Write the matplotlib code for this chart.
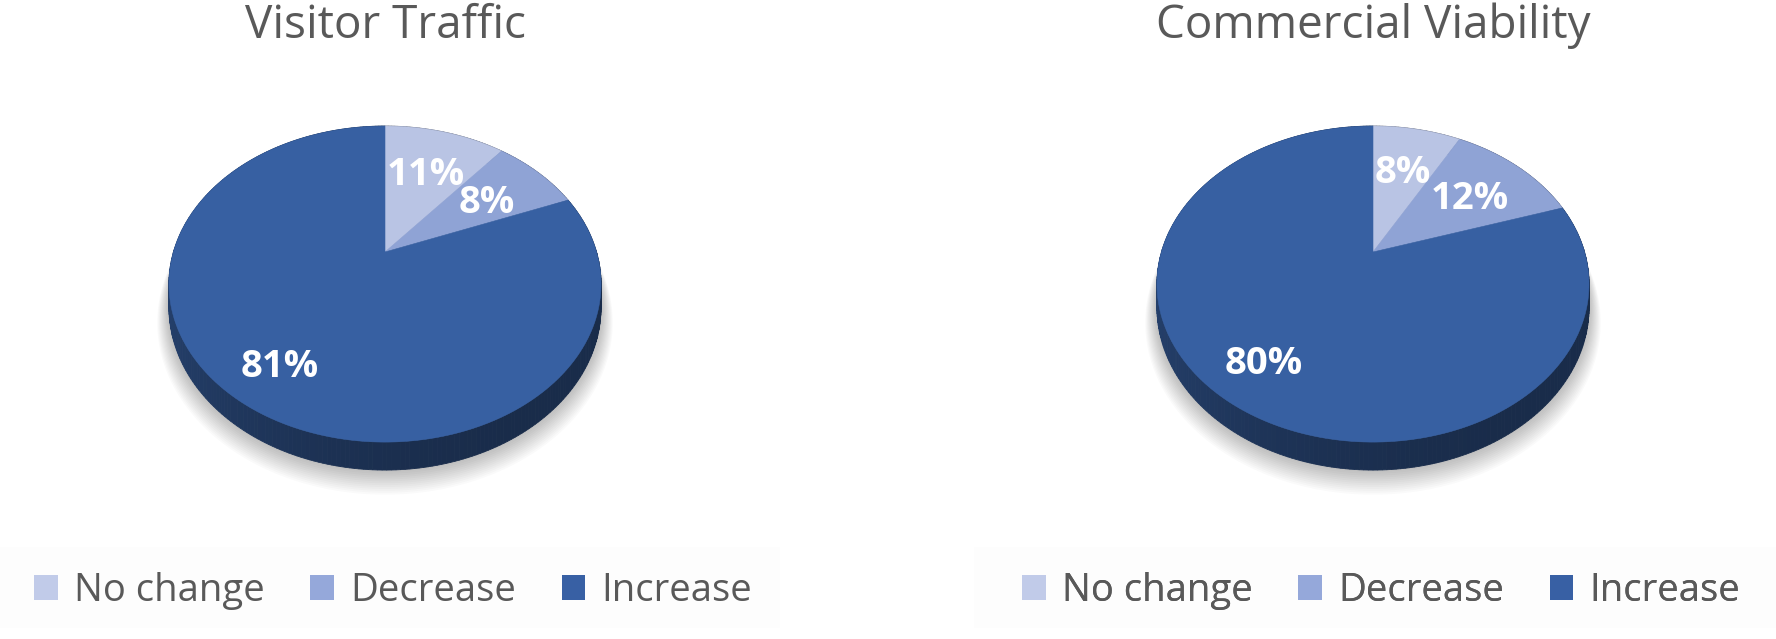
import numpy as np
import matplotlib
matplotlib.use("Agg")
from matplotlib import pyplot as plt
from matplotlib.patches import Polygon, Rectangle, Patch

plt.rcParams["font.family"] = ["Open Sans", "DejaVu Sans"]

titles = ["Visitor Traffic", "Commercial Viability"]
categories = ["No change", "Decrease", "Increase"]
visitor_traffic = [11, 8, 81]
commercial_viability = [8, 12, 80]
colors = ["#b9c4e4", "#8fa3d5", "#3760a2"]
legend_colors = ["#c1cbe9", "#95a8da", "#3860a4"]
text_grey = "#595959"

W, H = 1776, 639
fig = plt.figure(figsize=(W / 100, H / 100), dpi=100)
ax = fig.add_axes([0, 0, 1, 1])
ax.set_xlim(0, W)
ax.set_ylim(H, 0)
ax.set_axis_off()

# perspective settings (pixels)
D = 4.93
SX, SY = 1043.0, 747.0
THICK = 110.0


def project(cx, cy, theta, r=1.0, h=0.0):
    x = r * np.sin(theta)
    z = r * np.cos(theta)
    w = D + z
    return cx + SX * x / w, cy - SY * z / w + THICK * h / w


def shade(color, f):
    rgb = np.array(matplotlib.colors.to_rgb(color))
    return tuple(rgb * f)


def pie3d(cx, cy, values, title, legend_x):
    fracs = np.array(values, dtype=float) / np.sum(values)
    edges = np.concatenate([[0], np.cumsum(fracs)]) * 2 * np.pi

    # soft shadow
    t = np.linspace(0, 2 * np.pi, 200)
    for k in range(14):
        px, py = project(cx, cy, t, 1.0 + k * 0.004, 1.0)
        ax.add_patch(Polygon(np.c_[px, py + k * 0.9], closed=True,
                             facecolor="black", edgecolor="none",
                             alpha=0.018, zorder=1))

    # side wall, lighter on the left
    for i, c in enumerate(colors):
        ts = np.linspace(edges[i], edges[i + 1], max(int(fracs[i] * 360), 2) + 1)
        for a, b in zip(ts[:-1], ts[1:]):
            x0, y0 = project(cx, cy, a)
            x1, y1 = project(cx, cy, b)
            x2, y2 = project(cx, cy, b, h=1.0)
            x3, y3 = project(cx, cy, a, h=1.0)
            xm = np.sin((a + b) / 2)
            f = 0.49 - 0.1 * xm + 0.07 * xm ** 2
            ax.add_patch(Polygon([[x0, y0], [x1, y1], [x2, y2], [x3, y3]],
                                 closed=True, facecolor=shade(c, f),
                                 edgecolor=shade(c, f), linewidth=0.6, zorder=2))

    # top face
    for i, c in enumerate(colors):
        ts = np.linspace(edges[i], edges[i + 1], max(int(fracs[i] * 360), 2) + 1)
        px, py = project(cx, cy, ts)
        pts = np.vstack([[cx, cy], np.c_[px, py]])
        ax.add_patch(Polygon(pts, closed=True, facecolor=c, edgecolor=c,
                             linewidth=0.4, zorder=3))

    # labels
    for i, v in enumerate(values):
        mid = (edges[i] + edges[i + 1]) / 2
        r = 0.64 if fracs[i] < 0.3 else 0.77
        lx, ly = project(cx, cy, mid, r)
        ax.text(lx, ly + 14, f"{v}%", color="white", fontsize=27.5,
                fontweight="bold", ha="center", va="baseline", zorder=4)

    ax.text(cx, 38, title, color=text_grey, fontsize=33, ha="center",
            va="baseline")

    handles = [Patch(facecolor=c, edgecolor="none") for c in legend_colors]
    leg = ax.legend(handles, categories, loc="center left",
                    bbox_to_anchor=(legend_x / W, 1 - 591 / H),
                    ncol=3, frameon=False, fontsize=27.5,
                    handlelength=0.62, handleheight=0.62, handletextpad=0.42,
                    columnspacing=1.2, borderaxespad=0, borderpad=0)
    for txt in leg.get_texts():
        txt.set_color(text_grey)
    ax.add_artist(leg)


ax.add_patch(Rectangle((0, 547), 780, 81, facecolor="#fdfdfd",
                       edgecolor="none", zorder=0))
ax.add_patch(Rectangle((974, 547), 802, 81, facecolor="#fdfdfd",
                       edgecolor="none", zorder=0))

pie3d(385, 252, visitor_traffic, titles[0], 34)
pie3d(1373, 252, commercial_viability, titles[1], 1022)

fig.savefig("out.png", dpi=100, facecolor="white")
